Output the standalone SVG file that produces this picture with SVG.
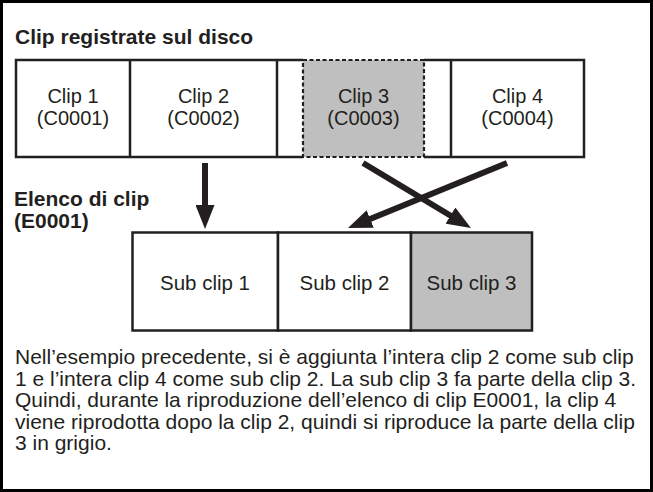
<svg xmlns="http://www.w3.org/2000/svg" width="653" height="492" viewBox="0 0 653 492">
  <style>
    text { font-family: "Liberation Sans", Arial, Helvetica, sans-serif; fill: #231f20; }
    .hd { font-size: 21px; font-weight: bold; }
    .lbl { font-size: 20px; text-anchor: middle; }
    .sub { font-size: 20.5px; text-anchor: middle; }
    .para { font-size: 21px; }
    .box { fill: #ffffff; stroke: #231f20; stroke-width: 2.5; }
    .line { fill: none; stroke: #231f20; stroke-width: 2.5; }
    .grey { fill: #bfbfbf; stroke: none; }
    .dash { fill: none; stroke: #231f20; stroke-width: 2.2; stroke-dasharray: 4 2.5; }
    .arrow { fill: none; stroke: #231f20; stroke-width: 6; marker-end: url(#head); }
  </style>
  <defs>
    <marker id="head" markerUnits="userSpaceOnUse" viewBox="0 0 24 19" refX="12" refY="9.5" markerWidth="24" markerHeight="19" orient="auto">
      <path d="M0,0 L24,9.5 L0,19 Z" fill="#231f20"/>
    </marker>
  </defs>

  <rect x="1.5" y="1.5" width="650" height="489" fill="#ffffff" stroke="#000000" stroke-width="3"/>

  <g id="title-disk">
    <text class="hd" x="15" y="44">Clip registrate sul disco</text>
  </g>

  <g id="disk-strip">
    <rect x="16" y="60" width="568" height="97" fill="#ffffff"/>
    <path class="line" d="M303,60 H16 V157 H303 M424,60 H584 V157 H424 M130,60 V157 M277,60 V157 M451,60 V157"/>
  </g>

  <g id="clip1">
    <text class="lbl" x="73" y="103">Clip 1</text>
    <text class="lbl" x="73" y="125">(C0001)</text>
  </g>
  <g id="clip2">
    <text class="lbl" x="203.5" y="103">Clip 2</text>
    <text class="lbl" x="203.5" y="125">(C0002)</text>
  </g>
  <g id="clip3">
    <rect class="grey" x="303" y="60" width="121" height="97"/>
    <rect class="dash" x="303" y="60" width="121" height="97"/>
    <text class="lbl" x="363.5" y="103">Clip 3</text>
    <text class="lbl" x="363.5" y="125">(C0003)</text>
  </g>
  <g id="clip4">
    <text class="lbl" x="517.5" y="103">Clip 4</text>
    <text class="lbl" x="517.5" y="125">(C0004)</text>
  </g>

  <g id="title-list">
    <text class="hd" x="14" y="206">Elenco di clip</text>
    <text class="hd" x="14" y="228">(E0001)</text>
  </g>

  <g id="subclip1">
    <rect class="box" x="132.5" y="232.5" width="145.5" height="98"/>
    <text class="sub" x="205" y="290">Sub clip 1</text>
  </g>
  <g id="subclip2">
    <rect class="box" x="278" y="232.5" width="133" height="98"/>
    <text class="sub" x="344.5" y="290">Sub clip 2</text>
  </g>
  <g id="subclip3">
    <rect class="box" x="411" y="232.5" width="121" height="98" style="fill:#bfbfbf"/>
    <text class="sub" x="471.5" y="290">Sub clip 3</text>
  </g>

  <g id="connectors">
    <line class="arrow" x1="205" y1="163" x2="205" y2="217"/>
    <line class="arrow" x1="363" y1="163" x2="460.7" y2="221.8"/>
    <line class="arrow" x1="507" y1="163" x2="359.1" y2="223.5"/>
  </g>

  <g id="caption">
    <text class="para" x="15" y="364">Nell’esempio precedente, si è aggiunta l’intera clip 2 come sub clip</text>
    <text class="para" x="15" y="385.5">1 e l’intera clip 4 come sub clip 2. La sub clip 3 fa parte della clip 3.</text>
    <text class="para" x="15" y="407">Quindi, durante la riproduzione dell’elenco di clip E0001, la clip 4</text>
    <text class="para" x="15" y="428.5">viene riprodotta dopo la clip 2, quindi si riproduce la parte della clip</text>
    <text class="para" x="15" y="450">3 in grigio.</text>
  </g>
</svg>
